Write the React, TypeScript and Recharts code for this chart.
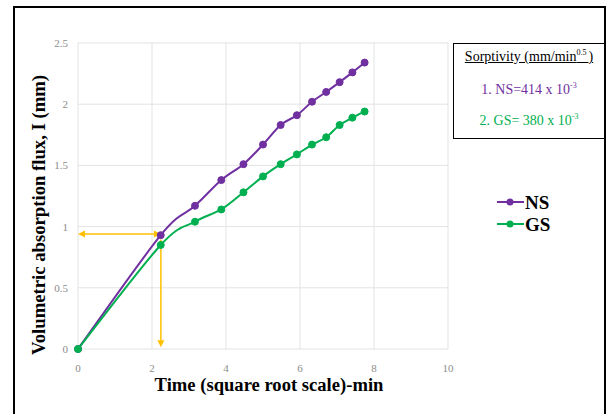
import React from 'react';
import { LineChart, Line, XAxis, YAxis, CartesianGrid, ReferenceLine, Customized } from 'recharts';

const timeSqrt = [0, 2.236, 3.162, 3.873, 4.472, 5.0, 5.477, 5.916, 6.325, 6.708, 7.071, 7.416, 7.746];
const nsValues = [0, 0.93, 1.17, 1.38, 1.51, 1.67, 1.83, 1.91, 2.02, 2.1, 2.18, 2.26, 2.34];
const gsValues = [0, 0.85, 1.04, 1.14, 1.28, 1.41, 1.51, 1.59, 1.67, 1.73, 1.83, 1.89, 1.94];
const xTicks = [0, 2, 4, 6, 8, 10];
const yTicks = [0, 0.5, 1, 1.5, 2, 2.5];
const arrowX = 2.24;
const arrowY = 0.94;

const data = timeSqrt.map((t, i) => ({ t, NS: nsValues[i], GS: gsValues[i] }));

const PURPLE = '#7030A0';
const GREEN = '#00B050';
const ORANGE = '#FFC000';
const SERIF = '"Liberation Serif", "Times New Roman", serif';

const seriesList = [
  { name: 'NS', color: PURPLE },
  { name: 'GS', color: GREEN },
];

// Excel-like smoothed curve (Catmull-Rom style Bezier through every point)
const excelCurve = (context: any) => {
  let pts: number[][] = [];
  return {
    areaStart() {},
    areaEnd() {},
    lineStart() {
      pts = [];
    },
    point(x: number, y: number) {
      pts.push([+x, +y]);
    },
    lineEnd() {
      const n = pts.length;
      if (!n) return;
      context.moveTo(pts[0][0], pts[0][1]);
      for (let i = 0; i < n - 1; i++) {
        const p0 = pts[i - 1] || pts[i];
        const p1 = pts[i];
        const p2 = pts[i + 1];
        const p3 = pts[i + 2] || pts[i + 1];
        const c1x = p1[0] + (p2[0] - p0[0]) / 6;
        const c1y = p1[1] + (p2[1] - p0[1]) / 6;
        const c2x = p2[0] - (p3[0] - p1[0]) / 6;
        const c2y = p2[1] - (p3[1] - p1[1]) / 6;
        context.bezierCurveTo(c1x, c1y, c2x, c2y, p2[0], p2[1]);
      }
    },
  };
};

const ArrowShape = (p: any) => {
  const { x1, y1, x2, y2 } = p;
  const dx = x2 - x1;
  const dy = y2 - y1;
  const len = Math.sqrt(dx * dx + dy * dy) || 1;
  const ux = dx / len;
  const uy = dy / len;
  const hl = 7;
  const hw = 3.5;
  const head = (tx: number, ty: number, dirx: number, diry: number) => {
    const bx = tx - dirx * hl;
    const by = ty - diry * hl;
    const px = -diry * hw;
    const py = dirx * hw;
    return `${tx},${ty} ${bx + px},${by + py} ${bx - px},${by - py}`;
  };
  return (
    <g>
      <line x1={x1 + ux * 4} y1={y1 + uy * 4} x2={x2 - ux * 4} y2={y2 - uy * 4} stroke={ORANGE} strokeWidth={1.5} />
      <polygon points={head(x1, y1, -ux, -uy)} fill={ORANGE} />
      <polygon points={head(x2, y2, ux, uy)} fill={ORANGE} />
    </g>
  );
};

const Titles = () => (
  <g>
    <text
      x={0}
      y={0}
      transform="translate(45,215) rotate(-90)"
      textAnchor="middle"
      fontFamily={SERIF}
      fontWeight="bold"
      fontSize={18.7}
      fill="#000"
    >
      Volumetric absorption flux, I (mm)
    </text>
    <text x={269} y={391} textAnchor="middle" fontFamily={SERIF} fontWeight="bold" fontSize={18.6} fill="#000">
      Time (square root scale)-min
    </text>
  </g>
);

export default function App() {
  return (
    <div style={{ position: 'absolute', left: 0, top: 0, width: 611, height: 414, background: '#fff', overflow: 'hidden' }}>
      <div
        style={{
          position: 'absolute',
          left: 13,
          top: 6,
          width: 593,
          height: 430,
          border: '2px solid #000',
          boxSizing: 'border-box',
        }}
      />
      <div style={{ position: 'absolute', left: 0, top: 0 }}>
        <LineChart width={611} height={414} data={data} margin={{ top: 43, right: 163, bottom: 35, left: 0 }}>
          <CartesianGrid stroke="#e3e3e3" strokeWidth={1} />
          <XAxis
            dataKey="t"
            type="number"
            domain={[0, 10]}
            ticks={xTicks}
            axisLine={false}
            tickLine={false}
            tickSize={0}
            tickMargin={15}
            height={30}
            tick={{ fill: '#8c8c8c', fontSize: 11, fontFamily: SERIF }}
          />
          <YAxis
            type="number"
            domain={[0, 2.5]}
            ticks={yTicks}
            axisLine={false}
            tickLine={false}
            tickSize={0}
            tickMargin={10}
            width={78}
            tick={{ fill: '#8c8c8c', fontSize: 11, fontFamily: SERIF }}
          />
          <ReferenceLine
            segment={[{ x: 0, y: arrowY }, { x: arrowX, y: arrowY }]}
            shape={ArrowShape}
            ifOverflow="visible"
          />
          <ReferenceLine
            segment={[{ x: arrowX, y: 0.9 }, { x: arrowX, y: 0.015 }]}
            shape={ArrowShape}
            ifOverflow="visible"
          />
          <Line
            type={excelCurve as any}
            dataKey="NS"
            name="NS"
            stroke={PURPLE}
            strokeWidth={2}
            dot={{ r: 3.5, fill: PURPLE, stroke: PURPLE, strokeWidth: 1 }}
            isAnimationActive={false}
          />
          <Line
            type={excelCurve as any}
            dataKey="GS"
            name="GS"
            stroke={GREEN}
            strokeWidth={2}
            dot={{ r: 3.5, fill: GREEN, stroke: GREEN, strokeWidth: 1 }}
            isAnimationActive={false}
          />
          <Customized component={Titles} />
        </LineChart>
      </div>
      <div style={{ position: 'absolute', left: 497, top: 191 }}>
        {seriesList.map((s) => (
          <div key={s.name} style={{ display: 'flex', alignItems: 'center', height: 22 }}>
            <svg width={27} height={10} style={{ display: 'block' }}>
              <line x1={0} y1={5} x2={27} y2={5} stroke={s.color} strokeWidth={2} />
              <circle cx={13} cy={5} r={3.5} fill={s.color} />
            </svg>
            <span style={{ fontFamily: SERIF, fontWeight: 'bold', fontSize: 19, color: '#000', marginLeft: 1, lineHeight: '19px' }}>
              {s.name}
            </span>
          </div>
        ))}
      </div>
      <div
        style={{
          position: 'absolute',
          left: 453,
          top: 43,
          width: 152,
          height: 96,
          border: '1.5px solid #000',
          boxSizing: 'border-box',
          fontFamily: SERIF,
          textAlign: 'center',
        }}
      >
        <div style={{ position: 'absolute', left: 0, right: 0, top: 5, fontSize: 14, color: '#000', lineHeight: '16px' }}>
          <span style={{ textDecoration: 'underline' }}>
            Sorptivity (mm/min<sup style={{ fontSize: 8, lineHeight: 0 }}>0.5 </sup>)
          </span>
        </div>
        <div style={{ position: 'absolute', left: 0, right: 0, top: 38, fontSize: 14, color: PURPLE, lineHeight: '16px' }}>
          1. NS=414 x 10<sup style={{ fontSize: 8, lineHeight: 0 }}>-3</sup>
        </div>
        <div style={{ position: 'absolute', left: 0, right: 0, top: 69, fontSize: 14, color: GREEN, lineHeight: '16px' }}>
          2. GS= 380 x 10<sup style={{ fontSize: 8, lineHeight: 0 }}>-3</sup>
        </div>
      </div>
    </div>
  );
}
